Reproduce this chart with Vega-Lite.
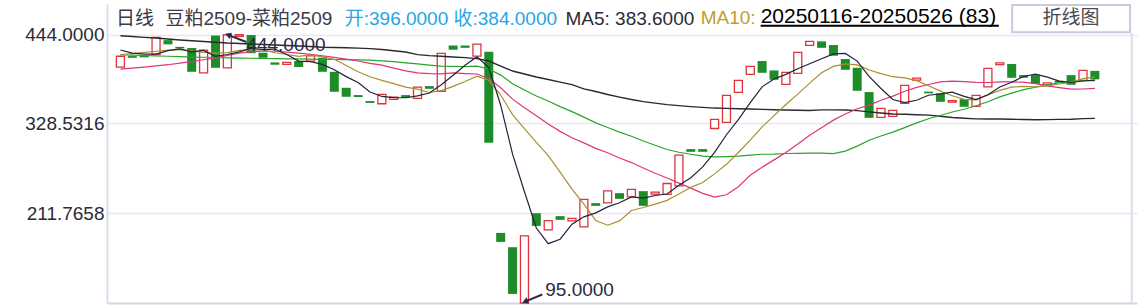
{
  "$schema": "https://vega.github.io/schema/vega-lite/v6.json",
  "width": 1030,
  "height": 299,
  "autosize": {"type": "none"},
  "padding": {"left": 107, "top": 4, "right": 2, "bottom": 3},
  "background": "#ffffff",
  "config": {
    "view": {"stroke": null},
    "font": "Liberation Sans, Noto Sans CJK SC",
    "text": {"font": "Liberation Sans, Noto Sans CJK SC"}
  },
  "datasets": {
    "candles": [
      {"i":0,"o":402,"c":416},{"i":1,"o":416.3,"c":414},{"i":2,"o":417.6,"c":414.6},{"i":3,"o":418.5,"c":440.6},
      {"i":4,"o":437,"c":431.5},{"i":5,"o":428.2,"c":426.2},{"i":6,"o":426.7,"c":395.8},{"i":7,"o":394.5,"c":424},
      {"i":8,"o":443,"c":401},{"i":9,"o":401,"c":444},{"i":10,"o":441.8,"c":444},{"i":11,"o":443.6,"c":420},
      {"i":12,"o":420.6,"c":414},{"i":13,"o":408,"c":405},{"i":14,"o":405.5,"c":408},{"i":15,"o":410,"c":402},
      {"i":16,"o":409.8,"c":416.7},{"i":17,"o":414,"c":395.8},{"i":18,"o":395.8,"c":369.8},{"i":19,"o":375,"c":363.3},
      {"i":20,"o":365.5,"c":363},{"i":21,"o":357.7,"c":355.3},{"i":22,"o":354.2,"c":366.4},{"i":23,"o":359.9,"c":362.9},
      {"i":24,"o":365.5,"c":362},{"i":25,"o":361.2,"c":375.9},{"i":26,"o":377.2,"c":373.7},{"i":27,"o":370.3,"c":419.8},
      {"i":28,"o":430,"c":424.5},{"i":29,"o":430,"c":427},{"i":30,"o":416.3,"c":431.9},{"i":31,"o":421.9,"c":303.4},
      {"i":32,"o":186.2,"c":174.5},{"i":33,"o":167.6,"c":106.8},{"i":34,"o":95,"c":182.3},{"i":35,"o":211.8,"c":195.3},
      {"i":36,"o":190.1,"c":202.3},{"i":37,"o":208,"c":203.2},{"i":38,"o":201.8,"c":205},{"i":39,"o":194,"c":229.7},
      {"i":40,"o":224.9,"c":221.4},{"i":41,"o":225.3,"c":240.9},{"i":42,"o":237.9,"c":230.5},{"i":43,"o":233,"c":242.7},
      {"i":44,"o":240.5,"c":221.4},{"i":45,"o":236.6,"c":239.2},{"i":46,"o":236.2,"c":250.5},{"i":47,"o":247.4,"c":287.4},
      {"i":48,"o":295.2,"c":291.7},{"i":49,"o":295.2,"c":291.7},{"i":50,"o":322,"c":333.8},{"i":51,"o":330,"c":365.1},
      {"i":52,"o":369,"c":384.6},{"i":53,"o":392.4,"c":402.9},{"i":54,"o":409.8,"c":394.5},{"i":55,"o":397.6,"c":385.4},
      {"i":56,"o":379.4,"c":395},{"i":57,"o":393.7,"c":421},{"i":58,"o":430.2,"c":435.4},{"i":59,"o":435.4,"c":427},
      {"i":60,"o":430.6,"c":416.7},{"i":61,"o":412.4,"c":398.4},{"i":62,"o":401,"c":371.1},{"i":63,"o":369.4,"c":335.9},
      {"i":64,"o":336.5,"c":348.2},{"i":65,"o":337.8,"c":345.6},{"i":66,"o":354.7,"c":378.1},{"i":67,"o":385,"c":387.5},
      {"i":68,"o":370,"c":367.8},{"i":69,"o":367.7,"c":356.8},{"i":70,"o":356.3,"c":358.4},{"i":71,"o":360.3,"c":350.3},
      {"i":72,"o":350.8,"c":365.1},{"i":73,"o":376.3,"c":400.2},{"i":74,"o":405,"c":407.5},{"i":75,"o":405.9,"c":388},
      {"i":76,"o":391.5,"c":388},{"i":77,"o":391.5,"c":380.2},{"i":78,"o":378.9,"c":381.3},{"i":79,"o":384.1,"c":381.5},
      {"i":80,"o":391.5,"c":378.9},{"i":81,"o":384.6,"c":397.6},{"i":82,"o":397,"c":386}
    ],
    "ma": [
      {"i":0,"m5":424.1,"m10":418,"m20":399.3,"m30":418,"m60":442.7},
      {"i":1,"m5":420.2,"m10":419.5,"m20":400.5,"m30":417.5,"m60":441.7},
      {"i":2,"m5":418.9,"m10":421,"m20":402,"m30":417,"m60":440.6},
      {"i":3,"m5":418.9,"m10":422.5,"m20":403.5,"m30":416.5,"m60":439.7},
      {"i":4,"m5":423.3,"m10":424,"m20":405,"m30":416,"m60":438.4},
      {"i":5,"m5":425.5,"m10":424.5,"m20":407,"m30":415.5,"m60":437.1},
      {"i":6,"m5":421.8,"m10":423,"m20":409,"m30":415,"m60":436.1},
      {"i":7,"m5":423.7,"m10":421,"m20":411.5,"m30":414.7,"m60":435.2},
      {"i":8,"m5":415.8,"m10":420,"m20":414,"m30":414.4,"m60":434.3},
      {"i":9,"m5":418.3,"m10":420.8,"m20":417,"m30":414,"m60":433.2},
      {"i":10,"m5":421.8,"m10":423.7,"m20":420,"m30":413.7,"m60":432.6},
      {"i":11,"m5":426.6,"m10":424.2,"m20":422,"m30":413.4,"m60":431.9},
      {"i":12,"m5":424.6,"m10":424.2,"m20":422.5,"m30":413.1,"m60":431.3},
      {"i":13,"m5":425.4,"m10":420.6,"m20":422.5,"m30":412.9,"m60":430.6},
      {"i":14,"m5":418.2,"m10":418.3,"m20":421.5,"m30":412.7,"m60":430.0},
      {"i":15,"m5":409.8,"m10":415.8,"m20":420,"m30":412.5,"m60":429.3},
      {"i":16,"m5":409.1,"m10":417.9,"m20":418.5,"m30":412.3,"m60":428.7},
      {"i":17,"m5":405.5,"m10":415.1,"m20":416.5,"m30":412,"m60":427.7},
      {"i":18,"m5":398.5,"m10":412.0,"m20":414.5,"m30":411.8,"m60":427.4},
      {"i":19,"m5":389.5,"m10":403.9,"m20":412.4,"m30":411.6,"m60":427.0},
      {"i":20,"m5":381.8,"m10":395.8,"m20":409.8,"m30":411.4,"m60":426.6},
      {"i":21,"m5":369.5,"m10":389.3,"m20":406.8,"m30":411,"m60":425.9},
      {"i":22,"m5":363.7,"m10":384.6,"m20":404.4,"m30":410,"m60":424.8},
      {"i":23,"m5":362.3,"m10":380.4,"m20":400.5,"m30":409,"m60":423.2},
      {"i":24,"m5":362.0,"m10":375.8,"m20":397.1,"m30":407.5,"m60":421.5},
      {"i":25,"m5":364.5,"m10":373.2,"m20":394.5,"m30":406,"m60":418.2},
      {"i":26,"m5":368.2,"m10":368.9,"m20":393.4,"m30":404.5,"m60":416.9},
      {"i":27,"m5":378.9,"m10":371.3,"m20":393.2,"m30":403.3,"m60":416.0},
      {"i":28,"m5":391.2,"m10":376.8,"m20":394.4,"m30":402.8,"m60":415.0},
      {"i":29,"m5":404.2,"m10":383.1,"m20":393.5,"m30":402.6,"m60":414.2},
      {"i":30,"m5":415.4,"m10":390.0,"m20":392.9,"m30":403.2,"m60":413.0},
      {"i":31,"m5":401.3,"m10":384.8,"m20":387.1,"m30":399.4,"m60":409.8},
      {"i":32,"m5":352.3,"m10":365.6,"m20":375.1,"m30":391.5,"m60":403.3},
      {"i":33,"m5":288.7,"m10":340.0,"m20":360.2,"m30":380.3,"m60":396.8},
      {"i":34,"m5":239.8,"m10":322.0,"m20":348.9,"m30":372.0,"m60":392.9},
      {"i":35,"m5":192.5,"m10":304.0,"m20":338.6,"m30":364.3,"m60":389.0},
      {"i":36,"m5":172.2,"m10":286.8,"m20":327.9,"m30":357.9,"m60":385.7},
      {"i":37,"m5":178.0,"m10":265.2,"m20":318.3,"m30":350.5,"m60":382.4},
      {"i":38,"m5":197.6,"m10":243.2,"m20":310.0,"m30":344.0,"m60":379.2},
      {"i":39,"m5":207.1,"m10":223.5,"m20":303.3,"m30":336.8,"m60":373.6},
      {"i":40,"m5":212.3,"m10":202.4,"m20":296.2,"m30":329.4,"m60":370.1},
      {"i":41,"m5":220.1,"m10":196.2,"m20":290.5,"m30":323.4,"m60":366.2},
      {"i":42,"m5":225.5,"m10":201.8,"m20":283.7,"m30":317.3,"m60":362.9},
      {"i":43,"m5":233.1,"m10":215.4,"m20":277.7,"m30":311.9,"m60":359.7},
      {"i":44,"m5":231.4,"m10":219.3,"m20":270.7,"m30":305.7,"m60":357.0},
      {"i":45,"m5":234.9,"m10":223.6,"m20":263.8,"m30":300.3,"m60":355.1},
      {"i":46,"m5":236.8,"m10":228.5,"m20":257.7,"m30":294.7,"m60":353.1},
      {"i":47,"m5":248.1,"m10":236.8,"m20":251.0,"m30":291.1,"m60":351.8},
      {"i":48,"m5":257.9,"m10":245.5,"m20":244.4,"m30":288.5,"m60":350.5},
      {"i":49,"m5":272.0,"m10":251.7,"m20":237.6,"m30":286.1,"m60":349.5},
      {"i":50,"m5":291.0,"m10":263.0,"m20":232.7,"m30":285.1,"m60":348.6},
      {"i":51,"m5":313.9,"m10":275.4,"m20":235.8,"m30":285.5,"m60":348.2},
      {"i":52,"m5":333.5,"m10":290.8,"m20":246.3,"m30":286.1,"m60":347.7},
      {"i":53,"m5":355.7,"m10":306.8,"m20":261.1,"m30":287.4,"m60":347.3},
      {"i":54,"m5":376.2,"m10":324.1,"m20":271.7,"m30":288.5,"m60":346.9},
      {"i":55,"m5":386.5,"m10":338.8,"m20":281.2,"m30":288.8,"m60":346.4},
      {"i":56,"m5":392.5,"m10":353.2,"m20":290.9,"m30":289.5,"m60":346.0},
      {"i":57,"m5":399.8,"m10":366.7,"m20":301.8,"m30":289.6,"m60":345.7},
      {"i":58,"m5":406.3,"m10":381.0,"m20":313.3,"m30":289.9,"m60":345.5},
      {"i":59,"m5":412.8,"m10":394.5,"m20":323.1,"m30":289.9,"m60":346.3},
      {"i":60,"m5":419.0,"m10":402.8,"m20":332.9,"m30":289.4,"m60":346.3},
      {"i":61,"m5":419.7,"m10":406.1,"m20":340.8,"m30":292.6,"m60":346.0},
      {"i":62,"m5":409.7,"m10":404.8,"m20":347.8,"m30":299.1,"m60":345.3},
      {"i":63,"m5":389.8,"m10":398.1,"m20":352.5,"m30":306.8,"m60":343.6},
      {"i":64,"m5":374.1,"m10":393.5,"m20":358.8,"m30":312.3,"m60":342.2},
      {"i":65,"m5":359.8,"m10":389.4,"m20":364.1,"m30":317.3,"m60":340.8},
      {"i":66,"m5":355.8,"m10":387.8,"m20":370.5,"m30":323.2,"m60":340.5},
      {"i":67,"m5":358.8,"m10":384.3,"m20":375.5,"m30":329.3,"m60":339.9},
      {"i":68,"m5":365.3,"m10":377.6,"m20":379.3,"m30":334.7,"m60":339.4},
      {"i":69,"m5":367.0,"m10":370.6,"m20":382.6,"m30":338.9,"m60":337.9},
      {"i":70,"m5":369.4,"m10":364.6,"m20":383.7,"m30":343.5,"m60":336.4},
      {"i":71,"m5":363.9,"m10":359.9,"m20":383.0,"m30":347.1,"m60":335.3},
      {"i":72,"m5":359.7,"m10":359.3,"m20":382.1,"m30":351.6,"m60":334.5},
      {"i":73,"m5":366.0,"m10":365.7,"m20":381.9,"m30":356.9,"m60":334.4},
      {"i":74,"m5":376.1,"m10":371.6,"m20":382.6,"m30":363.1,"m60":334.4},
      {"i":75,"m5":382.1,"m10":375.8,"m20":382.6,"m30":368.0,"m60":334.1},
      {"i":76,"m5":389.7,"m10":376.8,"m20":382.3,"m30":372.6,"m60":333.7},
      {"i":77,"m5":392.7,"m10":376.2,"m20":380.3,"m30":375.7,"m60":333.4},
      {"i":78,"m5":388.8,"m10":377.4,"m20":377.5,"m30":378.7,"m60":333.6},
      {"i":79,"m5":383.7,"m10":379.9,"m20":375.3,"m30":381.7,"m60":333.9},
      {"i":80,"m5":381.9,"m10":382.0,"m20":373.3,"m30":383.1,"m60":334.1},
      {"i":81,"m5":383.8,"m10":386.8,"m20":373.4,"m30":384.3,"m60":334.9},
      {"i":82,"m5":384.9,"m10":388.8,"m20":374.1,"m30":384.3,"m60":335.2}
    ]
  },
  "layer": [
    {
      "encoding": {
        "x": {
          "field": "i", "type": "quantitative",
          "scale": {"domain": [-0.708, 85.125], "nice": false, "zero": false},
          "axis": {"title": null, "labels": false, "ticks": false, "grid": false, "domainColor": "#d4d4e6", "domainWidth": 2}
        },
        "y": {
          "type": "quantitative",
          "scale": {"domain": [95, 484], "nice": false, "zero": false},
          "axis": {
            "title": null, "values": [444, 328.5316, 211.7658], "format": ".4f",
            "ticks": false, "labelPadding": 3, "labelFontSize": 19, "labelColor": "#2b2b38",
            "labelFont": "Liberation Sans",
            "grid": true, "gridColor": "#e8e8f2", "gridWidth": 1.5,
            "domainColor": "#dcdcec", "domainWidth": 2
          }
        }
      },
      "layer": [
        {
          "data": {"name": "candles"},
          "transform": [{"filter": "datum.c < datum.o"}],
          "mark": {"type": "bar", "width": 9, "color": "#1f8c2a"},
          "encoding": {"y": {"field": "o"}, "y2": {"field": "c"}}
        },
        {
          "data": {"name": "candles"},
          "transform": [{"filter": "datum.c >= datum.o"}],
          "mark": {"type": "bar", "width": 8, "fill": "#ffffff", "stroke": "#e0333b", "strokeWidth": 1.3},
          "encoding": {"y": {"field": "o"}, "y2": {"field": "c"}}
        },
        {
          "data": {"name": "ma"},
          "mark": {"type": "line", "color": "#2a2a2e", "strokeWidth": 1.4},
          "encoding": {"y": {"field": "m60"}}
        },
        {
          "data": {"name": "ma"},
          "mark": {"type": "line", "color": "#2aa52a", "strokeWidth": 1.2},
          "encoding": {"y": {"field": "m30"}}
        },
        {
          "data": {"name": "ma"},
          "mark": {"type": "line", "color": "#e0357d", "strokeWidth": 1.2},
          "encoding": {"y": {"field": "m20"}}
        },
        {
          "data": {"name": "ma"},
          "mark": {"type": "line", "color": "#a8902e", "strokeWidth": 1.2},
          "encoding": {"y": {"field": "m10"}}
        },
        {
          "data": {"name": "ma"},
          "mark": {"type": "line", "color": "#22223c", "strokeWidth": 1.2},
          "encoding": {"y": {"field": "m5"}}
        }
      ]
    },
    {
      "data": {"values": [{"k": 1}]},
      "mark": {"type": "rule", "color": "#dcdcec", "strokeWidth": 2},
      "encoding": {"x": {"datum": 85.1, "type": "quantitative"}, "y": {"datum": 445.8, "type": "quantitative"}, "y2": {"datum": 95}}
    },
    {
      "data": {"values": [{"k": 1}]},
      "mark": {"type": "rule", "color": "#2a2a44", "strokeWidth": 2},
      "encoding": {"x": {"datum": 9.1, "type": "quantitative"}, "y": {"datum": 443.5, "type": "quantitative"}, "x2": {"datum": 10.6}, "y2": {"datum": 434.5}}
    },
    {
      "data": {"values": [{"k": 1}]},
      "mark": {"type": "point", "shape": "triangle-up", "filled": true, "color": "#2a2a44", "size": 45, "angle": 291, "opacity": 1},
      "encoding": {"x": {"datum": 9.05, "type": "quantitative"}, "y": {"datum": 443.8, "type": "quantitative"}}
    },
    {
      "data": {"values": [{"k": 1}]},
      "mark": {"type": "text", "text": "444.0000", "align": "left", "baseline": "middle", "fontSize": 19, "color": "#2a2a44", "font": "Liberation Sans"},
      "encoding": {"x": {"datum": 10.6, "type": "quantitative"}, "y": {"datum": 430.5, "type": "quantitative"}}
    },
    {
      "data": {"values": [{"k": 1}]},
      "mark": {"type": "rule", "color": "#2a2a44", "strokeWidth": 2},
      "encoding": {"x": {"datum": 34.1, "type": "quantitative"}, "y": {"datum": 97.2, "type": "quantitative"}, "x2": {"datum": 35.5}, "y2": {"datum": 106}}
    },
    {
      "data": {"values": [{"k": 1}]},
      "mark": {"type": "point", "shape": "triangle-up", "filled": true, "color": "#2a2a44", "size": 45, "angle": 249, "opacity": 1},
      "encoding": {"x": {"datum": 34.05, "type": "quantitative"}, "y": {"datum": 97.0, "type": "quantitative"}}
    },
    {
      "data": {"values": [{"k": 1}]},
      "mark": {"type": "text", "text": "95.0000", "align": "left", "baseline": "middle", "fontSize": 19, "color": "#2a2a44", "font": "Liberation Sans"},
      "encoding": {"x": {"datum": 35.75, "type": "quantitative"}, "y": {"datum": 111.5, "type": "quantitative"}}
    },
    {
      "data": {"values": [{"k": 1}]},
      "mark": {"type": "text", "text": "日线", "align": "left", "baseline": "alphabetic", "fontSize": 19, "color": "#3a3a48"},
      "encoding": {"x": {"datum": -0.375, "type": "quantitative"}, "y": {"datum": 456.6, "type": "quantitative"}}
    },
    {
      "data": {"values": [{"k": 1}]},
      "mark": {"type": "text", "text": "豆粕2509-菜粕2509", "align": "left", "baseline": "alphabetic", "fontSize": 19, "color": "#3a3a48"},
      "encoding": {"x": {"datum": 3.79, "type": "quantitative"}, "y": {"datum": 456.6, "type": "quantitative"}}
    },
    {
      "data": {"values": [{"k": 1}]},
      "mark": {"type": "text", "text": "开:396.0000 收:384.0000", "align": "left", "baseline": "alphabetic", "fontSize": 19, "color": "#27a4e6"},
      "encoding": {"x": {"datum": 18.875, "type": "quantitative"}, "y": {"datum": 456.6, "type": "quantitative"}}
    },
    {
      "data": {"values": [{"k": 1}]},
      "mark": {"type": "text", "text": "MA5: 383.6000", "align": "left", "baseline": "alphabetic", "fontSize": 19, "color": "#2b2b38"},
      "encoding": {"x": {"datum": 37.45, "type": "quantitative"}, "y": {"datum": 456.6, "type": "quantitative"}}
    },
    {
      "data": {"values": [{"k": 1}]},
      "mark": {"type": "text", "text": "MA10:", "align": "left", "baseline": "alphabetic", "fontSize": 19, "color": "#c29c2c"},
      "encoding": {"x": {"datum": 48.83, "type": "quantitative"}, "y": {"datum": 458.2, "type": "quantitative"}}
    },
    {
      "data": {"values": [{"k": 1}]},
      "mark": {"type": "text", "text": "20250116-20250526 (83)", "align": "left", "baseline": "alphabetic", "fontSize": 21, "color": "#000000"},
      "encoding": {"x": {"datum": 53.875, "type": "quantitative"}, "y": {"datum": 459.2, "type": "quantitative"}}
    },
    {
      "data": {"values": [{"k": 1}]},
      "mark": {"type": "rule", "color": "#000000", "strokeWidth": 2},
      "encoding": {"x": {"datum": 53.875, "type": "quantitative"}, "x2": {"datum": 73.92}, "y": {"datum": 455.6, "type": "quantitative"}}
    },
    {
      "data": {"values": [{"k": 1}]},
      "mark": {"type": "rect", "fill": "#ffffff", "stroke": "#c8cae2", "strokeWidth": 2},
      "encoding": {"x": {"datum": 75.04, "type": "quantitative"}, "x2": {"datum": 84.96}, "y": {"datum": 482.7, "type": "quantitative"}, "y2": {"datum": 447.3}}
    },
    {
      "data": {"values": [{"k": 1}]},
      "mark": {"type": "text", "text": "折线图", "align": "center", "baseline": "alphabetic", "fontSize": 19, "color": "#4a4a55"},
      "encoding": {"x": {"datum": 80.0, "type": "quantitative"}, "y": {"datum": 457.5, "type": "quantitative"}}
    }
  ]
}
